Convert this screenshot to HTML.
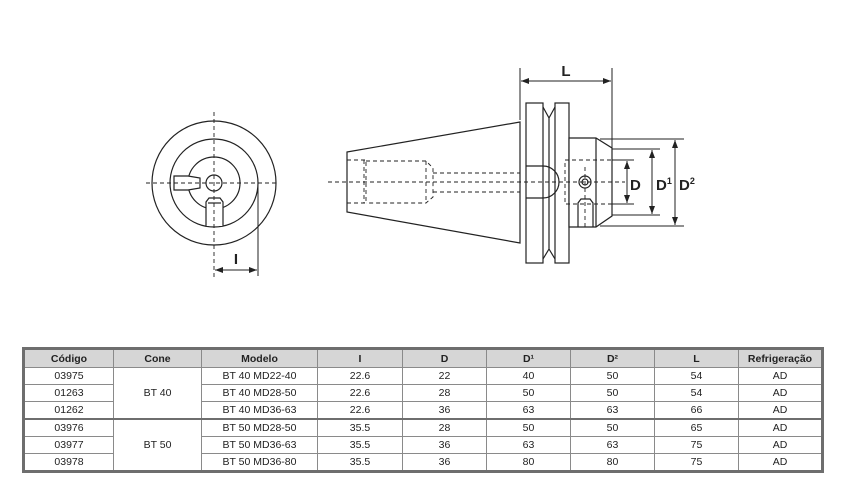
<!DOCTYPE html>
<html><head><meta charset="utf-8"><style>
body{margin:0;background:#fff;width:844px;height:492px;overflow:hidden;position:relative;font-family:"Liberation Sans",sans-serif}
svg{position:absolute;left:0;top:0}
table{position:absolute;left:22px;top:347px;border-collapse:collapse;border:3px solid #6e6e6e;font-size:10.5px;color:#222;table-layout:fixed}
td,th{border:1px solid #8a8a8a;height:16px;padding:0;text-align:center;line-height:16px}
th{background:#d6d6d6;font-weight:bold;height:17px}
tr.sep td{border-top:2px solid #6e6e6e}
</style></head><body>
<svg width="844" height="345" viewBox="0 0 844 345" fill="none" stroke="#222" stroke-width="1.2">
<defs><marker id="a" markerWidth="8" markerHeight="6" refX="8" refY="3" orient="auto-start-reverse"><path d="M0,0L8,3L0,6z" fill="#222" stroke="none"/></marker></defs>
<!-- front view -->
<circle cx="214" cy="183" r="62"/>
<circle cx="214" cy="183" r="44"/>
<circle cx="214" cy="183" r="26"/>
<circle cx="214" cy="183" r="8"/>
<path d="M188,176H174V190H188L200,188V178Z" fill="#fff"/>
<path d="M206,226V202L209,198H220L223,202V226" fill="#fff"/>
<line x1="208" y1="203" x2="221" y2="203"/>
<g stroke-dasharray="4,3" stroke-width="0.9"><line x1="214" y1="112" x2="214" y2="278"/><line x1="146" y1="183" x2="278" y2="183"/></g>
<line x1="258" y1="185" x2="258" y2="276" stroke-width="1"/>
<line x1="215" y1="270" x2="257" y2="270" marker-start="url(#a)" marker-end="url(#a)" stroke-width="1"/>
<text x="236" y="264" font-family="Liberation Sans" font-size="15" font-weight="bold" fill="#222" stroke="none" text-anchor="middle">I</text>
<!-- side view -->
<path d="M347,152L520,122V243L347,212Z" fill="#fff"/>
<rect x="526" y="103" width="17" height="160"/>
<path d="M543,107L549,118V249L543,259M555,107L549,118M555,259L549,249"/>
<rect x="555" y="103" width="14" height="160"/>
<path d="M569,138H596L612,148V216L596,227H569Z" fill="#fff"/>
<line x1="596" y1="138" x2="596" y2="227"/>
<path d="M526,166H543A16,16 0 0 1 543,198H526"/>
<circle cx="585" cy="182" r="6"/><circle cx="585" cy="182" r="3"/>
<path d="M578,227V203L581,199H590L593,203V227"/>
<g stroke-dasharray="4,3" stroke-width="0.9">
<path d="M347,160H366V203H347M364,160V203M366,161H426L433,168V197L426,203H366M426,161V203M433,173H520M433,192H520"/>
<path d="M565,160H612V204H565Z"/>
<line x1="328" y1="182" x2="625" y2="182"/><line x1="585" y1="167" x2="585" y2="230"/>
</g>
<line x1="520" y1="68" x2="520" y2="120" stroke-width="1"/>
<line x1="612" y1="68" x2="612" y2="148" stroke-width="1"/>
<line x1="521" y1="81" x2="611" y2="81" marker-start="url(#a)" marker-end="url(#a)" stroke-width="1"/>
<text x="566" y="76" font-size="15" font-weight="bold" fill="#222" stroke="none" text-anchor="middle" font-family="Liberation Sans">L</text>
<g stroke-width="1">
<line x1="612" y1="160" x2="634" y2="160"/><line x1="612" y1="204" x2="634" y2="204"/>
<line x1="612" y1="149" x2="660" y2="149"/><line x1="612" y1="215" x2="660" y2="215"/>
<line x1="600" y1="139" x2="684" y2="139"/><line x1="600" y1="226" x2="684" y2="226"/>
<line x1="627" y1="161" x2="627" y2="203" marker-start="url(#a)" marker-end="url(#a)"/>
<line x1="652" y1="150" x2="652" y2="214" marker-start="url(#a)" marker-end="url(#a)"/>
<line x1="675" y1="140" x2="675" y2="225" marker-start="url(#a)" marker-end="url(#a)"/>
</g>
<g font-size="15" font-weight="bold" fill="#222" stroke="none" font-family="Liberation Sans">
<text x="630" y="190">D</text><text x="656" y="190">D<tspan font-size="9" dy="-6">1</tspan></text><text x="679" y="190">D<tspan font-size="9" dy="-6">2</tspan></text>
</g>
</svg>
<table>
<colgroup><col style="width:90px"><col style="width:88px"><col style="width:116px"><col style="width:85px"><col style="width:84px"><col style="width:84px"><col style="width:84px"><col style="width:84px"><col style="width:84px"></colgroup>
<tr><th>Código</th><th>Cone</th><th>Modelo</th><th>I</th><th>D</th><th>D¹</th><th>D²</th><th>L</th><th>Refrigeração</th></tr>
<tr><td>03975</td><td rowspan="3">BT 40</td><td>BT 40 MD22-40</td><td>22.6</td><td>22</td><td>40</td><td>50</td><td>54</td><td>AD</td></tr>
<tr><td>01263</td><td>BT 40 MD28-50</td><td>22.6</td><td>28</td><td>50</td><td>50</td><td>54</td><td>AD</td></tr>
<tr><td>01262</td><td>BT 40 MD36-63</td><td>22.6</td><td>36</td><td>63</td><td>63</td><td>66</td><td>AD</td></tr>
<tr class="sep"><td>03976</td><td rowspan="3">BT 50</td><td>BT 50 MD28-50</td><td>35.5</td><td>28</td><td>50</td><td>50</td><td>65</td><td>AD</td></tr>
<tr><td>03977</td><td>BT 50 MD36-63</td><td>35.5</td><td>36</td><td>63</td><td>63</td><td>75</td><td>AD</td></tr>
<tr><td>03978</td><td>BT 50 MD36-80</td><td>35.5</td><td>36</td><td>80</td><td>80</td><td>75</td><td>AD</td></tr>
</table>
</body></html>
